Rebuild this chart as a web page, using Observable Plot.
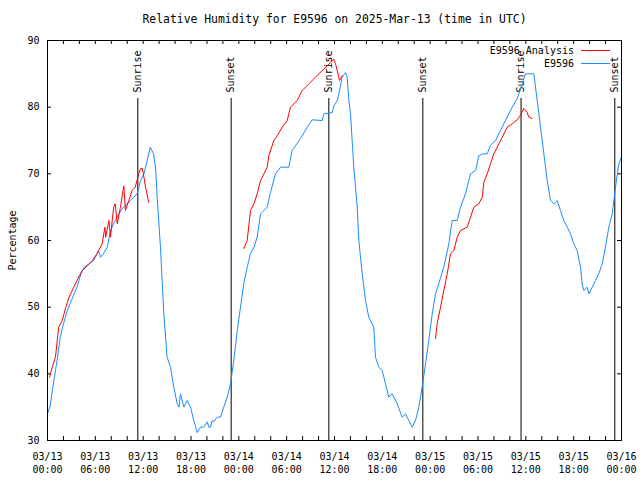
<!DOCTYPE html>
<html>
<head>
<meta charset="utf-8">
<script src="https://cdn.jsdelivr.net/npm/d3@7"></script>
<script src="https://cdn.jsdelivr.net/npm/@observablehq/plot@0.6"></script>
<style>
  body { margin: 0; background: #fff; }
  #chart { width: 640px; height: 480px; }
</style>
</head>
<body>
<div id="chart"></div>
<script>
// ---- Data (hours since 2025-03-13 00:00 UTC) ----
const startUTC = Date.UTC(2025, 2, 13, 0, 0);
const titleText = "Relative Humidity for E9596 on 2025-Mar-13 (time in UTC)";
const yLabel = "Percentage";
const seriesNames = ["E9596 Analysis", "E9596"];
const seriesColors = ["#ff0000", "#1a8cff"];

const stationHours = [
  0.0, 0.3, 0.8, 1.2, 1.6, 2.0, 2.5, 3.0, 3.7, 4.2, 4.6, 5.2, 5.8, 6.4, 6.65, 7.0, 7.5, 7.9, 8.3, 8.7,
  9.5, 10.4, 11.25, 11.67, 12.1, 12.5, 12.9, 13.3, 13.55, 13.76, 14.17, 14.59, 15.0, 15.43, 15.84, 16.27, 16.5, 16.68, 17.1, 17.52,
  17.94, 18.35, 18.78, 19.19, 19.61, 20.03, 20.24, 20.45, 20.65, 20.86, 21.29, 21.7, 22.11, 22.54, 22.96, 23.37, 23.8, 24.21, 24.62, 25.05,
  25.46, 25.9, 26.3, 26.72, 27.56, 27.97, 28.6, 29.23, 30.27, 30.69, 31.74, 32.58, 33.2, 34.46, 34.66, 35.71, 35.92, 36.34, 36.54, 36.97,
  37.38, 37.59, 37.8, 38.01, 38.42, 38.85, 39.05, 39.48, 39.89, 40.3, 40.93, 41.14, 41.56, 41.98, 42.4, 42.81, 43.24, 43.87, 44.49, 44.91,
  45.32, 45.75, 46.16, 46.58, 47.0, 47.42, 47.83, 48.26, 48.67, 49.08, 49.71, 50.34, 50.76, 51.39, 51.81, 52.43, 53.06, 53.69, 54.1, 54.53,
  55.16, 55.57, 56.2, 56.82, 57.66, 58.29, 58.92, 59.55, 59.96, 61.0, 61.43, 61.84, 62.26, 62.68, 63.1, 63.51, 63.93, 64.35, 64.76, 65.19,
  65.6, 66.02, 66.44, 66.86, 67.07, 67.27, 67.7, 67.9, 68.33, 68.74, 69.15, 69.58, 69.99, 70.41, 70.84, 71.25, 71.66, 72.0
];
const stationValues = [
  34, 35, 39, 42, 45.5, 47.5, 49.5, 51, 53, 55, 56, 56.5, 57, 58.5, 57.5, 58, 59, 61.5, 62.5, 63.5,
  65, 66, 67, 69, 70, 72, 74, 73, 71, 66.5, 59, 49, 42.5, 41, 38, 35.5, 35, 37, 35, 36,
  35, 33, 31.2, 32, 32, 32.8, 32, 32, 33, 32.8, 33.5, 33.5, 35, 36.5, 38.5, 42, 46.5, 50, 53.5, 56,
  58, 59, 60.5, 64, 65, 67.2, 70, 71, 71, 73.5, 75.3, 77, 78.1, 78, 79, 79.2, 80.2, 81, 82, 84.5,
  85.2, 84.5, 81, 79, 71, 65, 60, 55, 51, 48.5, 47, 42.5, 41, 40.5, 38.5, 36.5, 37, 35.5, 33.5, 34,
  33, 32, 33, 35, 38, 41.5, 45, 49, 52, 53.5, 56, 59.5, 63, 63, 65, 67, 70, 70.5, 72.7, 73,
  73, 74.3, 75, 76.5, 78.5, 80, 81.3, 83.5, 85, 85, 81, 77, 73, 69, 66, 65.5, 66, 64.5, 63, 62,
  61, 59.5, 58.5, 56, 53.5, 52.5, 53, 52, 53, 54, 55, 56.5, 59, 62, 64, 68, 71.5, 72.5
];

// null entries separate the three analysis runs
const analysisHours = [
  0.25, 0.6, 1.0, 1.4, 1.85, 2.3, 2.7, 3.3, 3.7, 4.35, 5.0, 5.6, 6.2, 6.85, 7.2, 7.3, 7.7, 7.9, 8.3, 8.5,
  8.75, 9.15, 9.57, 9.78, 10.2, 10.6, 11.0, 11.45, 11.67, 11.9, 12.1, 12.3, 12.7,
  null,
  24.62, 25.05, 25.46, 25.88, 26.3, 26.72, 27.13, 27.56, 27.76, 28.39, 28.81, 29.44, 30.07, 30.48, 31.32, 31.95, 32.78, 33.62, 34.46, 35.08,
  35.71, 35.91, 36.13, 36.34, 36.54, 36.63, 36.97,
  null,
  48.67, 48.88, 49.3, 49.71, 50.14, 50.55, 50.97, 51.39, 51.81, 52.65, 53.06, 53.48, 54.1, 54.53, 54.73, 55.16, 55.57, 55.98, 56.41, 57.04,
  57.66, 58.29, 58.92, 59.33, 59.75, 60.17, 60.37, 60.8
];
const analysisValues = [
  39.5, 41, 42.5, 47, 48, 50, 51.5, 53, 54, 55.5, 56.2, 57, 58, 59.5, 62, 60.5, 63, 60.5, 65, 65.5,
  62.5, 65, 68.2, 64.5, 66, 67.5, 68, 70, 70.8, 70.8, 69.5, 68, 65.7,
  null,
  58.8, 60, 64.5, 65.5, 67, 69, 70, 71, 72.7, 75, 75.7, 77, 78, 80, 81, 82.5, 83.5, 84.5, 85.5, 86.2,
  87, 87.2, 86.5, 85.5, 84.5, 84, 84.7,
  null,
  45.3, 47.5, 50, 52.5, 55, 58, 58.5, 60.5, 61.5, 62, 63.5, 65, 65.5, 66.5, 68.7, 70, 71.5, 73, 74, 75.5,
  77, 77.5, 78.1, 78.8, 79.8, 79.2, 78.5, 78.3
];

const sunHours = [11.33, 23.04, 35.29, 47.08, 59.4, 71.16];
const sunLabels = ["Sunrise", "Sunset", "Sunrise", "Sunset", "Sunrise", "Sunset"];

const xLabelHours = [0, 6, 12, 18, 24, 30, 36, 42, 48, 54, 60, 66, 72];
const xMinorHours = d3.range(0, 73, 2);
const yTicks = [30, 40, 50, 60, 70, 80, 90];

// ---- Build tables ----
const toDate = h => new Date(startUTC + h * 3600e3);
const station = stationHours.map((h, i) => ({t: toDate(h), v: stationValues[i]}));
const analysis = analysisHours.map((h, i) => ({t: h == null ? null : toDate(h), v: analysisValues[i]}));
const sun = sunHours.map((h, i) => ({t: toDate(h), label: sunLabels[i]}));
const xLabelDates = xLabelHours.map(toDate);
const xMinorDates = xMinorHours.map(toDate);

const W = 640, H = 480, mL = 47, mR = 19, mT = 40, mB = 40;
const frameW = W - mL - mR, frameH = H - mT - mB;
const tick = 4;
const font = "'DejaVu Sans Mono', monospace";

const chart = Plot.plot({
  width: W, height: H,
  marginLeft: mL, marginRight: mR, marginTop: mT, marginBottom: mB,
  style: {fontFamily: font, fontSize: "10px", background: "#fff", color: "#000"},
  x: {type: "utc", domain: [toDate(0), toDate(72)]},
  y: {domain: [30, 90]},
  marks: [
    // inward tick marks on all four sides
    Plot.gridX(xMinorDates, {stroke: "#000", strokeOpacity: 1, insetTop: frameH - tick}),
    Plot.gridX(xMinorDates, {stroke: "#000", strokeOpacity: 1, insetBottom: frameH - tick}),
    Plot.gridY(yTicks, {stroke: "#000", strokeOpacity: 1, insetRight: frameW - tick}),
    Plot.gridY(yTicks, {stroke: "#000", strokeOpacity: 1, insetLeft: frameW - tick}),
    Plot.axisX(xLabelDates, {tickSize: 0, tickPadding: 10, tickFormat: d3.utcFormat("%m/%d\n%H:%M"), lineHeight: 1.3, label: null, fontSize: 10}),
    Plot.axisY(yTicks, {tickSize: 0, tickPadding: 8, label: null, fontSize: 10}),
    // sunrise / sunset markers
    Plot.ruleX(sun, {x: "t", stroke: "#000", insetTop: 58}),
    Plot.text(sun, {x: "t", text: "label", frameAnchor: "top", dy: 52, rotate: -90, textAnchor: "start", lineAnchor: "middle", fontSize: 10}),
    // series
    Plot.line(station, {x: "t", y: "v", stroke: seriesColors[1], strokeWidth: 1}),
    Plot.line(analysis, {x: "t", y: "v", stroke: seriesColors[0], strokeWidth: 1}),
    Plot.frame({stroke: "#000"}),
    // title and y label
    Plot.text([titleText], {text: d => d, frameAnchor: "top", dy: -21, lineAnchor: "middle", fontSize: 11.4}),
    Plot.text([yLabel], {text: d => d, frameAnchor: "left", dx: -35, rotate: -90, textAnchor: "middle", lineAnchor: "middle", fontSize: 10})
  ]
});

// legend inside top-right of the frame
const svg = d3.select(chart);
const right = W - mR;
const lg = svg.append("g").attr("font-family", font).attr("font-size", 10);
seriesNames.forEach((name, i) => {
  const y = mT + 10 + i * 13;
  lg.append("text").attr("x", right - 47).attr("y", y).attr("dy", "0.35em")
    .attr("text-anchor", "end").attr("fill", "#000").text(name);
  lg.append("line").attr("x1", right - 40).attr("x2", right - 11)
    .attr("y1", y + 0.5).attr("y2", y + 0.5).attr("stroke", seriesColors[i]);
});

document.getElementById("chart").appendChild(chart);
</script>
</body>
</html>
